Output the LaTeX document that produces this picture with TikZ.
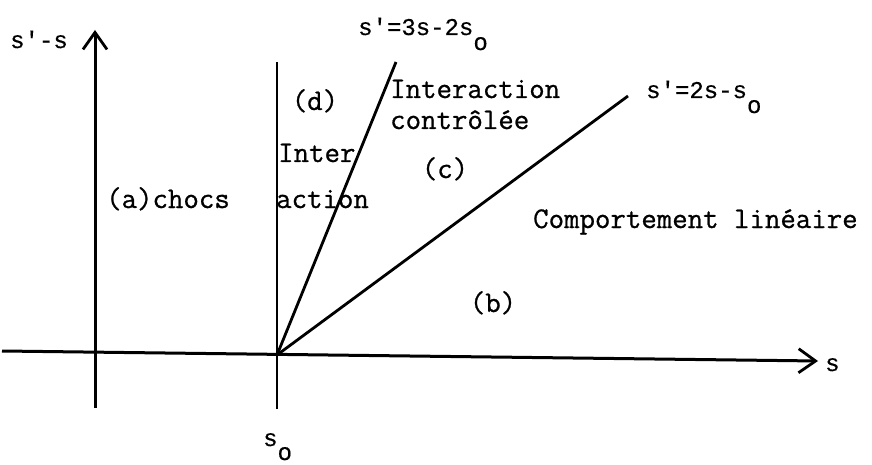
\documentclass[tikz,border=0pt]{standalone}
\usepackage{fontspec}
\newfontfamily\eqfont{Liberation Mono}[Ligatures=TeXOff,FakeBold=0.5]
\newfontfamily\typefont{Latin Modern Mono}[FakeBold=0.8]
\usetikzlibrary{arrows.meta}
\newcommand{\txtfont}{\typefont\fontsize{30}{36}\selectfont}
\newcommand{\eqsize}{\eqfont\fontsize{24}{29}\selectfont}
\newcommand{\lowo}{\lower15pt\hbox{o}}

\begin{document}
\begin{tikzpicture}[x=1pt,y=-1pt,
    axisline/.style={line width=3pt,-{Straight Barb[length=17pt,width=24pt,line width=2.8pt]}},
    thickline/.style={line width=2.8pt},
    lbl/.style={font=\txtfont,inner sep=0pt,anchor=base west},
    tag/.style={font=\txtfont,inner sep=0pt,anchor=base},
    eq/.style={font=\eqsize,inner sep=0pt,anchor=base west}]
    \useasboundingbox (0,0) rectangle (872,465);
    % Points
    \coordinate (O) at (277,355);
    \coordinate (vtop) at (95,30);
    \coordinate (vbot) at (95,408);
    \coordinate (hleft) at (2,351);
    \coordinate (hright) at (818,361);
    \coordinate (s0top) at (277,62);
    \coordinate (s0bot) at (277,409);
    \coordinate (l1end) at (396,62);
    \coordinate (l2end) at (628,96);
    % Labels
    \node[eq] (ylab) at (10,48) {s'-s};
    \node[eq] (eq1) at (358,35) {s'=3s-2s\lowo};
    \node[eq] (eq2) at (646,98) {s'=2s-s\lowo};
    \node[eq] (xlab) at (825,371) {s};
    \node[eq] (s0lab) at (263,446) {s\lower14pt\hbox{o}};
    \node[tag] (dlab) at (315,110) {(d)};
    \node[tag] (clab) at (445,178) {(c)};
    \node[tag] (blab) at (493,312) {(b)};
    \node[lbl] (ctrl1) at (390,98) {Interaction};
    \node[lbl] (ctrl2) at (390,129) {contrôlée};
    \node[lbl] (inter1) at (278,162) {Inter};
    \node[lbl] (inter2) at (276,208) {action};
    \node[lbl] (alab) at (106,208) {(a)chocs};
    \node[lbl] (lin) at (533,228) {Comportement linéaire};
    % Edges
    \draw[axisline] (vbot) -- (vtop);
    \draw[axisline] (hleft) -- (hright);
    \draw[thickline] (s0bot) -- (s0top);
    \draw[thickline] (O) -- (l1end);
    \draw[thickline] (O) -- (l2end);
\end{tikzpicture}
\end{document}
